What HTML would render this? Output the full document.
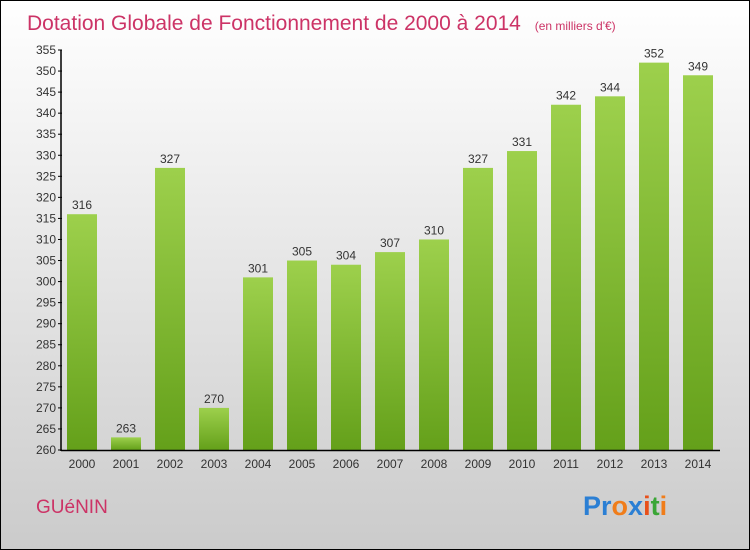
<!DOCTYPE html>
<html><head><meta charset="utf-8"><style>
body{margin:0}
svg{display:block;font-family:"Liberation Sans",sans-serif}
</style></head><body>
<svg id="c" width="750" height="550">
<defs>
<linearGradient id="bg" x1="0" y1="0" x2="0" y2="1"><stop offset="0" stop-color="#ffffff"/><stop offset="1" stop-color="#cbcbcb"/></linearGradient>
<linearGradient id="bar" x1="0" y1="0" x2="0" y2="1"><stop offset="0" stop-color="#9dd04c"/><stop offset="1" stop-color="#64a01a"/></linearGradient>
</defs>
<rect x="0.5" y="0.5" width="749" height="549" fill="url(#bg)" stroke="#000"/>
<text x="27" y="30" font-size="21" fill="#cc3366">Dotation Globale de Fonctionnement de 2000 à 2014 <tspan font-size="12" dx="8">(en milliers d'€)</tspan></text>
<g id="plot"></g>
<text x="36" y="513" font-size="19" fill="#cc3366">GUéNIN</text>
<text x="583" y="515" font-size="27" font-weight="bold"><tspan fill="#2b7fd4">Pr</tspan><tspan fill="#f07d1a">o</tspan><tspan fill="#2b7fd4">x</tspan><tspan fill="#e8501a">i</tspan><tspan fill="#3aa636">t</tspan><tspan fill="#f07d1a">i</tspan></text>
</svg>
<script>
const years=["2000","2001","2002","2003","2004","2005","2006","2007","2008","2009","2010","2011","2012","2013","2014"];
const values=[316,263,327,270,301,305,304,307,310,327,331,342,344,352,349];
const ticks=[260,265,270,275,280,285,290,295,300,305,310,315,320,325,330,335,340,345,350,355];
const NS="http://www.w3.org/2000/svg";
const g=document.getElementById('plot');
const y=v=>450-(v-260)*400/95;
const x=i=>82+i*44;
function el(t,a,txt){const e=document.createElementNS(NS,t);for(const k in a)e.setAttribute(k,a[k]);if(txt!==undefined)e.textContent=txt;g.appendChild(e);return e;}
values.forEach((v,i)=>{
 const r=el('rect',{x:x(i)-15,y:y(v),width:30,height:450-y(v),fill:'url(#bar)'});
 
 
 const t=el('text',{x:x(i),y:y(v)-5,'font-size':12,'text-anchor':'middle',fill:'#333'},String(v));
 
 
 const l=el('text',{x:x(i),y:468,'font-size':12,'text-anchor':'middle',fill:'#333'},years[i]);
 
 
});
ticks.forEach(v=>{
 const tk=el('line',{x1:58,x2:62,y1:y(v),y2:y(v),stroke:'#000'});
 
 
 const t=el('text',{x:56,y:y(v)+4,'font-size':12,'text-anchor':'end',fill:'#333'},String(v));
 
 
});
const ya=el('line',{x1:61,x2:61,y1:y(355),y2:451,stroke:'#000','stroke-width':1.5});


const xa=el('line',{x1:61,x2:720,y1:450.5,y2:450.5,stroke:'#000','stroke-width':1.5});


</script>
</body></html>
